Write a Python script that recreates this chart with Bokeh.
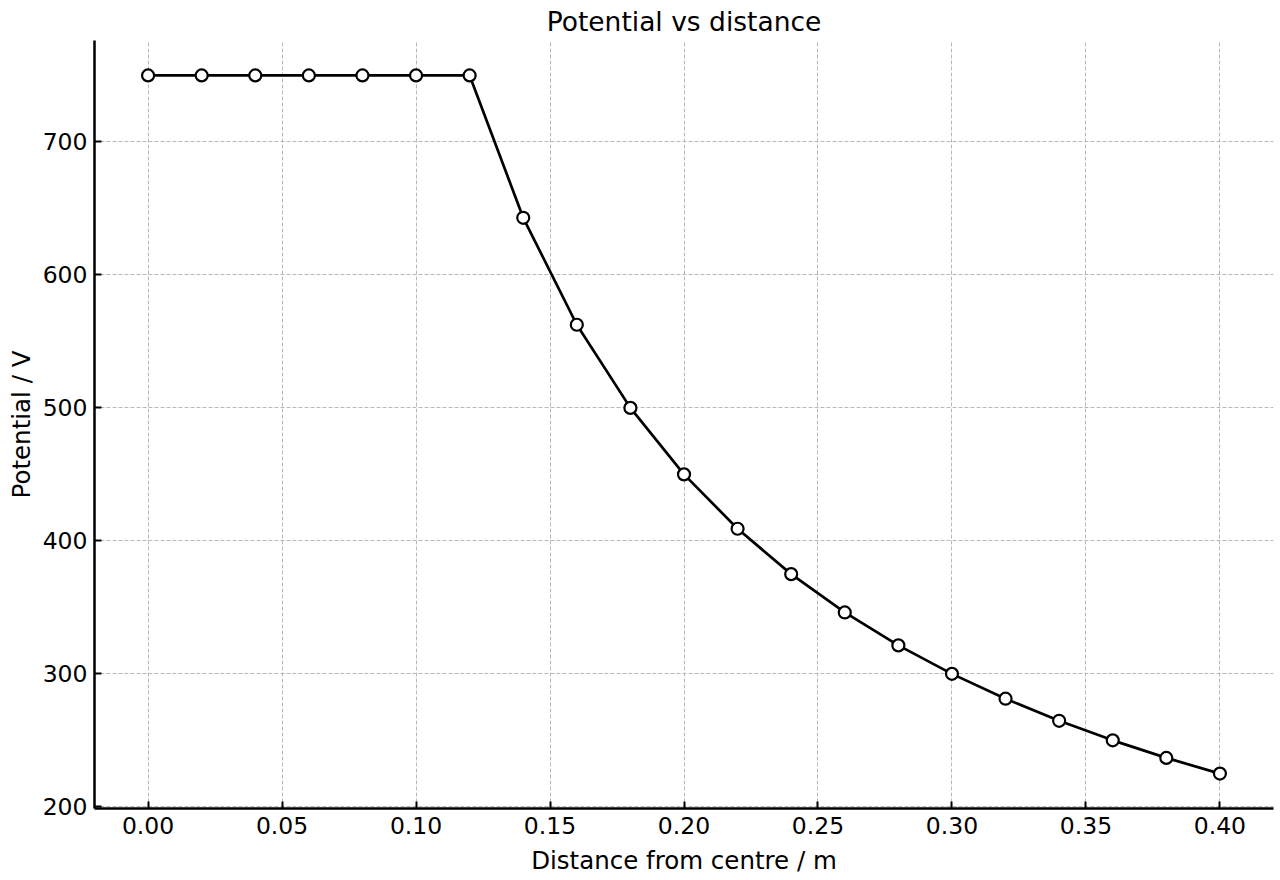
from bokeh.plotting import figure
from bokeh.models import FixedTicker, PrintfTickFormatter, Range1d
from bokeh.embed import file_html
from bokeh.resources import INLINE

distance = [0.00, 0.02, 0.04, 0.06, 0.08, 0.10, 0.12, 0.14, 0.16, 0.18, 0.20,
            0.22, 0.24, 0.26, 0.28, 0.30, 0.32, 0.34, 0.36, 0.38, 0.40]
potential = [750, 750, 750, 750, 750, 750, 750, 642.9, 562.5, 500.0, 450.0,
             409.1, 375.0, 346.2, 321.4, 300.0, 281.3, 264.7, 250.0, 236.8, 225.0]
x_ticks = [0.00, 0.05, 0.10, 0.15, 0.20, 0.25, 0.30, 0.35, 0.40]
y_ticks = [200, 300, 400, 500, 600, 700]

FONT = "DejaVu Sans"

p = figure(width=1280, height=880, output_backend="svg", toolbar_location=None,
           x_range=Range1d(-0.02, 0.42), y_range=Range1d(198.75, 776.25),
           min_border_left=94, min_border_right=7, min_border_top=40, min_border_bottom=72,
           title="Potential vs distance")
p.outline_line_color = None
p.background_fill_color = "white"
p.border_fill_color = "white"

p.title.align = "center"
p.title.vertical_align = "top"
p.title.text_font = FONT
p.title.text_font_size = "26.5px"
p.title.text_font_style = "normal"
p.title.text_color = "black"
p.title.offset = 0
p.title.standoff = 4

p.line(distance, potential, line_color="black", line_width=2.7)
p.scatter(distance, potential, size=12, marker="circle", fill_color="white",
          line_color="black", line_width=2.2)

for ax in (p.xaxis[0], p.yaxis[0]):
    ax.axis_line_width = 2.5
    ax.axis_line_color = "black"
    ax.major_tick_in = 7
    ax.major_tick_out = 0
    ax.major_tick_line_width = 2
    ax.major_tick_line_color = "black"
    ax.minor_tick_line_color = None
    ax.major_label_text_font = FONT
    ax.major_label_text_font_size = "23.5px"
    ax.major_label_text_color = "black"
    ax.axis_label_text_font = FONT
    ax.axis_label_text_font_size = "24.5px"
    ax.axis_label_text_font_style = "normal"
    ax.axis_label_text_color = "black"

p.xaxis.ticker = FixedTicker(ticks=x_ticks)
p.yaxis.ticker = FixedTicker(ticks=y_ticks)
p.xaxis.formatter = PrintfTickFormatter(format="%.2f")
p.yaxis.formatter = PrintfTickFormatter(format="%d")
p.xaxis.axis_label = "Distance from centre / m"
p.yaxis.axis_label = "Potential / V"
p.xaxis.major_label_standoff = 8
p.yaxis.major_label_standoff = 7
p.xaxis.axis_label_standoff = 9
p.yaxis.axis_label_standoff = 4

for g in (p.xgrid[0], p.ygrid[0]):
    g.grid_line_color = "#b8b8b8"
    g.grid_line_width = 1
    g.grid_line_dash = "4 2"

open("out.html", "w").write(file_html(p, INLINE))
